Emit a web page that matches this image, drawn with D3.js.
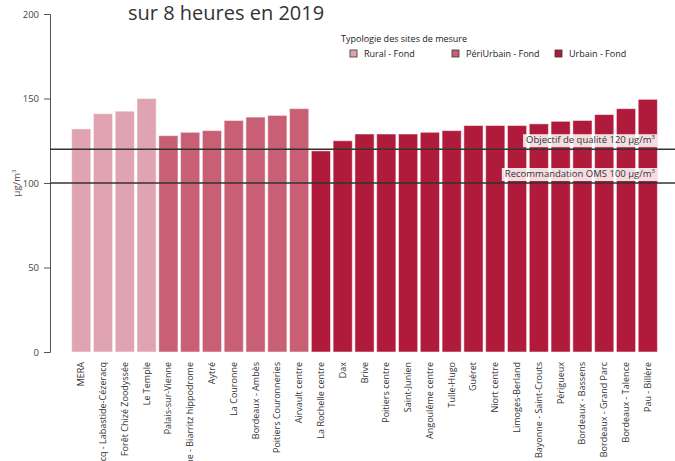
<!DOCTYPE html>
<html>
<head>
<meta charset="utf-8">
<script src="https://cdn.jsdelivr.net/npm/d3@7"></script>
<style>
  body { margin: 0; background: #fff; }
  svg { font-family: "Open Sans", sans-serif; }
</style>
</head>
<body>
<div id="app"></div>
<script>
// sites de mesure, typologie et valeurs (µg/m3)
var sites = ["MERA", "Lacq - Labastide-Cézeracq", "Forêt Chizé Zoodyssée", "Le Temple",
  "Palais-sur-Vienne", "Anglet - Bayonne - Biarritz hippodrome", "Aytré", "La Couronne", "Bordeaux - Ambès",
  "Poitiers Couronneries", "Airvault centre", "La Rochelle centre", "Dax", "Brive", "Poitiers centre",
  "Saint-Junien", "Angoulême centre", "Tulle-Hugo", "Guéret", "Niort centre", "Limoges-Berland",
  "Bayonne - Saint-Crouts", "Périgueux", "Bordeaux - Bassens", "Bordeaux - Grand Parc",
  "Bordeaux - Talence", "Pau - Billère"];
var typologie = ["Rural - Fond", "Rural - Fond", "Rural - Fond", "Rural - Fond",
  "PériUrbain - Fond", "PériUrbain - Fond", "PériUrbain - Fond", "PériUrbain - Fond", "PériUrbain - Fond",
  "PériUrbain - Fond", "PériUrbain - Fond", "Urbain - Fond", "Urbain - Fond", "Urbain - Fond", "Urbain - Fond",
  "Urbain - Fond", "Urbain - Fond", "Urbain - Fond", "Urbain - Fond", "Urbain - Fond", "Urbain - Fond",
  "Urbain - Fond", "Urbain - Fond", "Urbain - Fond", "Urbain - Fond", "Urbain - Fond", "Urbain - Fond"];
var valeurs = [132, 141, 142.5, 150, 128, 130, 131, 137, 139, 140, 144, 119, 125, 129, 129, 129, 130, 131,
  134, 134, 134, 135, 136.5, 137, 140.5, 144, 149.5];
var categories = ["Rural - Fond", "PériUrbain - Fond", "Urbain - Fond"];
var couleurs = ["#e0a3b1", "#c85f74", "#b01b3b"];
var yTicks = [0, 50, 100, 150, 200];
var seuils = [120, 100];
var seuilLabels = ["Objectif de qualité 120 µg/m", "Recommandation OMS 100 µg/m"];

var width = 675, height = 461;
var svg = d3.select("#app").append("svg").attr("width", width).attr("height", height);

var x = d3.scaleBand().domain(sites).range([69, 660]).paddingInner(0.12).paddingOuter(0.12);
var y = d3.scaleLinear().domain([0, 200]).range([352, 14]);
var color = d3.scaleOrdinal().domain(categories).range(couleurs);

// titre (seule la 2e ligne est visible)
svg.append("text").attr("x", 128).attr("y", 20).attr("font-size", 20).attr("fill", "#333")
  .text("sur 8 heures en 2019");

// barres
svg.selectAll("rect.bar").data(valeurs).enter().append("rect").attr("class", "bar")
  .attr("x", function(d, i) { return x(sites[i]); })
  .attr("y", function(d) { return y(d); })
  .attr("width", x.bandwidth())
  .attr("height", function(d) { return y(0) - y(d); })
  .attr("fill", function(d, i) { return color(typologie[i]); })
  .attr("stroke", "#fff").attr("stroke-opacity", 0.5).attr("stroke-width", 1);

// axe y
var yAxis = svg.append("g").attr("transform", "translate(50,0)")
  .call(d3.axisLeft(y).tickValues(yTicks).tickSize(6).tickPadding(5));
yAxis.select(".domain").attr("stroke", "#555");
yAxis.selectAll(".tick line").attr("stroke", "#555");
yAxis.selectAll("text").attr("font-family", "Open Sans, sans-serif").attr("font-size", 9.5).attr("fill", "#444");

var yl = svg.append("text").attr("transform", "translate(20," + y(100) + ") rotate(-90)")
  .attr("text-anchor", "middle").attr("font-size", 9.5).attr("fill", "#444");
yl.append("tspan").text("µg/m");
yl.append("tspan").attr("dy", -4).attr("font-size", 6).text("3");

// labels x
svg.selectAll("text.xl").data(sites).enter().append("text").attr("class", "xl")
  .attr("transform", function(d) { return "translate(" + (x(d) + x.bandwidth() / 2 + 3) + ",362) rotate(-90)"; })
  .attr("text-anchor", "end").attr("font-size", 9).attr("fill", "#333")
  .text(function(d) { return d; });

// seuils
seuils.forEach(function(s, i) {
  svg.append("line").attr("x1", 50).attr("x2", width).attr("y1", y(s)).attr("y2", y(s))
    .attr("stroke", "#333").attr("stroke-width", 1.5);
  var g = svg.append("g");
  var t = g.append("text").attr("x", 655).attr("y", y(s) - 6).attr("text-anchor", "end")
    .attr("font-size", 9.5).attr("fill", "#333");
  t.append("tspan").text(seuilLabels[i]);
  t.append("tspan").attr("dy", -4).attr("font-size", 6).text("3");
  var b = t.node().getBBox();
  g.insert("rect", "text").attr("x", b.x - 3).attr("y", b.y + 1).attr("width", b.width + 5)
    .attr("height", b.height).attr("fill", "#fff").attr("fill-opacity", 0.85);
});

// légende
svg.append("text").attr("x", 341).attr("y", 42).attr("font-size", 9).attr("fill", "#222")
  .text("Typologie des sites de mesure");
var legX = [350, 452, 555];
categories.forEach(function(c, i) {
  svg.append("rect").attr("x", legX[i]).attr("y", 50).attr("width", 7).attr("height", 7)
    .attr("fill", color(c)).attr("stroke", "#333").attr("stroke-width", 0.8);
  svg.append("text").attr("x", legX[i] + 14).attr("y", 57).attr("font-size", 9).attr("fill", "#222").text(c);
});
</script>
</body>
</html>
